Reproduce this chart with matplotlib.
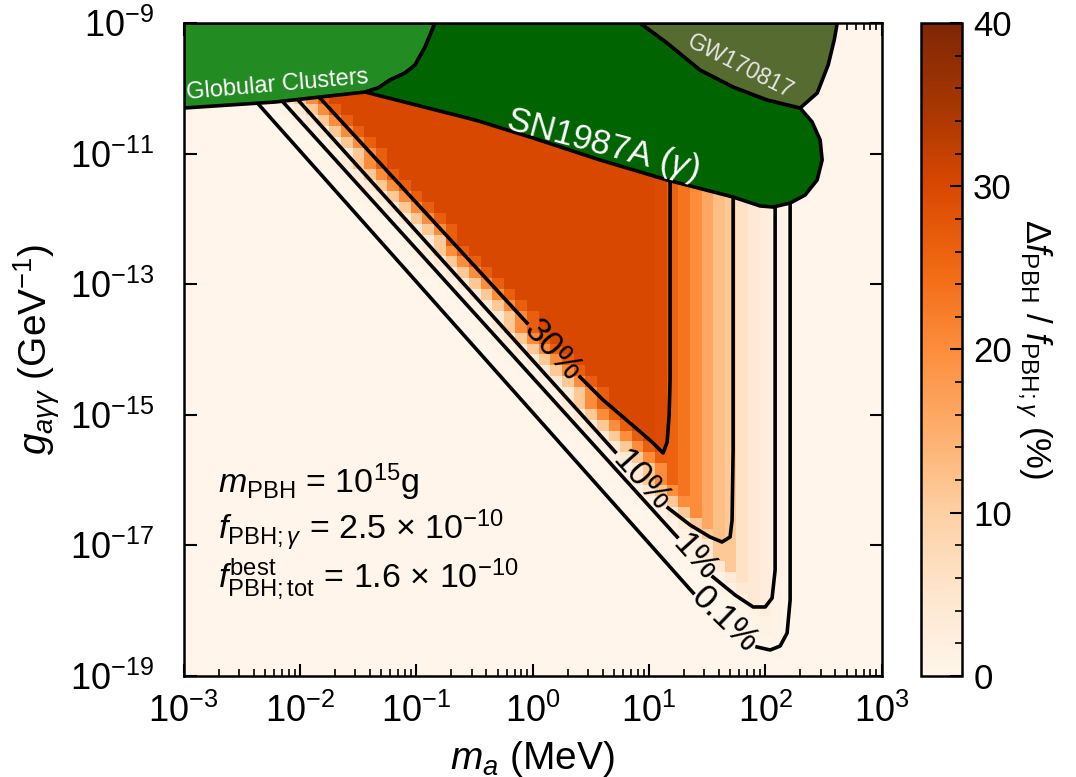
import numpy as np
import matplotlib
matplotlib.use('Agg')
import matplotlib.pyplot as plt
from matplotlib.patches import Polygon
from matplotlib.ticker import LogLocator, NullLocator, MultipleLocator

plt.rcParams['font.family'] = ['Liberation Sans', 'DejaVu Sans']
plt.rcParams['mathtext.fontset'] = 'custom'
plt.rcParams['mathtext.rm'] = 'Liberation Sans'
plt.rcParams['mathtext.it'] = 'Liberation Sans:italic'
plt.rcParams['mathtext.bf'] = 'Liberation Sans:bold'

# heat map grid (cell centres): m_a in MeV, g in GeV^-1
ma_grid = np.logspace(-3, 3, 61)
g_grid = np.logspace(-19, -9, 61)

# 30 % edge of the cells along the diagonal (log10 m_a, log10 g)
edge_logm = [-2.42, 2.74]
edge_logg = [-9.0, -19.0]
# cell value (%) vs. column offset from that edge
edge_offset = [-6, -5, -4, -3, -2, -1, 0, 1]
edge_pct = [0.15, 0.5, 1.5, 4.0, 11.0, 20.0, 26.5, 30.0]

# fall-off of the columns at large m_a (log10 m_a of column centre, %)
fall_logm = [1.0, 1.1, 1.2, 1.3, 1.4, 1.5, 1.6, 1.7, 1.8, 1.9, 2.0, 2.1, 2.2, 2.3]
fall_pct = [30.0, 29.5, 26.0, 23.5, 20.0, 16.0, 12.5, 11.0, 6.0, 4.0, 2.5, 1.0, 0.15, 0.0]

# contour lines, log10 values; part a ends at the label, part b starts after it
contours = {
    '30%': dict(a_m=[-2.128, -0.048], a_g=[-9.567, -13.594],
                b_m=[0.408, 0.606, 0.838, 1.036, 1.122, 1.157, 1.174, 1.182, 1.182],
                b_g=[-14.421, -14.773, -15.126, -15.432, -15.585, -15.417, -15.003, -14.467, -9.3]),
    '10%': dict(a_m=[-2.326, 0.711], a_g=[-9.567, -15.570],
                b_m=[1.165, 1.355, 1.525, 1.629, 1.698, 1.715, 1.724, 1.724],
                b_g=[-16.427, -16.688, -16.871, -16.948, -16.871, -16.611, -15.539, -9.3]),
    '1%': dict(a_m=[-2.472, 1.243], a_g=[-9.567, -16.871],
               b_m=[1.551, 1.741, 1.896, 2.0, 2.059, 2.085, 2.085],
               b_g=[-17.484, -17.760, -17.943, -17.943, -17.806, -17.377, -9.3]),
    '0.1%': dict(a_m=[-2.694, 1.381], a_g=[-9.567, -17.729],
                 b_m=[1.930, 2.042, 2.128, 2.188, 2.214, 2.214],
                 b_g=[-18.556, -18.602, -18.541, -18.342, -17.836, -9.3]),
}
# label centres (m_a, g) and angle
label_pos = {'30%': (1.50, 9.8e-15, -48), '10%': (8.6, 9.7e-17, -48),
             '1%': (24.9, 6.6e-18, -48), '0.1%': (45.2, 7.2e-19, -44)}

# excluded regions, log10 vertices
gc_m = [-3.0, -0.838, -0.924, -1.010, -1.096, -1.225, -1.328, -1.440, -2.214, -3.0]
gc_g = [-9.0, -9.0, -9.368, -9.643, -9.766, -9.873, -9.995, -10.057, -10.210, -10.302]
sn_m = [-0.838, 0.924, 1.156, 1.440, 1.724, 2.016, 2.300, 2.403, 2.472, 2.489, 2.446,
        2.343, 2.214, 2.068, 1.956, 1.724, 1.156, 0.580, 0.004, -0.495, -1.440,
        -1.328, -1.225, -1.096, -1.010, -0.924]
sn_g = [-9.0, -9.0, -9.306, -9.720, -9.980, -10.179, -10.302, -10.516, -10.792, -11.098,
        -11.404, -11.634, -11.757, -11.818, -11.802, -11.665, -11.404, -11.098, -10.761,
        -10.485, -10.057, -9.995, -9.873, -9.766, -9.643, -9.368]
gw_m = [0.924, 1.156, 1.440, 1.724, 2.016, 2.300, 2.447, 2.541, 2.593, 2.619]
gw_g = [-9.0, -9.306, -9.720, -9.980, -10.179, -10.302, -10.072, -9.643, -9.260, -9.0]

# build the table of cells from the arrays above
logm = np.log10(ma_grid)
logg = np.log10(g_grid)
edge_at_row = np.interp(logg, edge_logg[::-1], edge_logm[::-1])
off = np.floor((logm[None, :] - edge_at_row[:, None]) / 0.1).astype(int)
idx = np.clip(off - edge_offset[0], 0, len(edge_pct) - 1)
edge_val = np.where(off < edge_offset[0], 0.0, np.array(edge_pct)[idx])
fall = dict(zip(np.round(fall_logm, 1), fall_pct))
col_cap = np.array([fall.get(round(l, 1), edge_pct[-1] if l < fall_logm[0] else 0.0) for l in logm])
Z = np.minimum(edge_val, col_cap[None, :])

fig = plt.figure(figsize=(10.76, 7.77), dpi=100)
ax = fig.add_axes([0.1706, 0.130, 0.6487, 0.8404])
cax = fig.add_axes([0.856, 0.130, 0.0381, 0.8404])

mesh = ax.pcolormesh(ma_grid, g_grid, Z, shading='nearest', cmap='Oranges', vmin=0, vmax=40)

for lev, c in contours.items():
    ax.plot(10 ** np.array(c['a_m']), 10 ** np.array(c['a_g']), color='k', lw=2.6, zorder=3)
    ax.plot(10 ** np.array(c['b_m']), 10 ** np.array(c['b_g']), color='k', lw=2.6, zorder=3)
    x, y, rot = label_pos[lev]
    ax.text(x, y, lev, fontsize=25, rotation=rot, ha='center', va='center',
            rotation_mode='anchor', zorder=3)

for pm, pg, col in [(gc_m, gc_g, '#228B22'), (sn_m, sn_g, '#006400'), (gw_m, gw_g, '#556B2F')]:
    verts = np.column_stack([10 ** np.array(pm), 10 ** np.array(pg)])
    ax.add_patch(Polygon(verts, closed=True, facecolor=col, edgecolor='k', lw=2.6, zorder=4))

ax.text(10 ** -2.19, 10 ** -9.95, 'Globular Clusters', color='white', fontsize=17,
        rotation=5, ha='center', va='center', zorder=5)
ax.text(10 ** 0.60, 10 ** -10.86, r'SN1987A $(\gamma)$', color='white', fontsize=25,
        rotation=-15, ha='center', va='center', zorder=5)
ax.text(10 ** 1.79, 10 ** -9.67, 'GW170817', color='#e6e6e6', fontsize=16.5,
        rotation=-27, ha='center', va='center', zorder=5)

ax.text(0.049, 0.280, r'$m_{\mathrm{PBH}}$ = $10^{15}$g', transform=ax.transAxes,
        fontsize=24.5, va='baseline')
ax.text(0.049, 0.208, r'$f_{\mathrm{PBH};\gamma}$ = 2.5 $\times$ $10^{-10}$', transform=ax.transAxes,
        fontsize=24.5, va='baseline')
ax.text(0.049, 0.135, r'$f^{\mathrm{best}}_{\mathrm{PBH;tot}}$ = 1.6 $\times$ $10^{-10}$',
        transform=ax.transAxes, fontsize=24.5, va='baseline')

ax.set_xscale('log')
ax.set_yscale('log')
ax.set_xlim(1e-3, 1e3)
ax.set_ylim(1e-19, 1e-9)
ax.xaxis.set_major_locator(LogLocator(base=10, numticks=10))
ax.xaxis.set_minor_locator(LogLocator(base=10, subs=np.arange(2, 10), numticks=20))
ax.set_yticks([1e-19, 1e-17, 1e-15, 1e-13, 1e-11, 1e-9])
ax.yaxis.set_minor_locator(NullLocator())
ax.tick_params(which='both', direction='in', top=True, right=True, labelsize=26)
ax.tick_params(which='major', length=9, width=1.5)
ax.tick_params(axis='x', which='major', pad=13)
ax.tick_params(axis='y', which='major', pad=21)
ax.tick_params(which='minor', length=5, width=1.2)
for s in ax.spines.values():
    s.set_linewidth(1.8)
    s.set_zorder(6)
ax.set_xlabel(r'$m_a$ (MeV)', fontsize=28, labelpad=6)
ax.set_ylabel(r'$g_{a\gamma\gamma}$ (GeV$^{-1}$)', fontsize=28, labelpad=6)

cb = fig.colorbar(mesh, cax=cax)
cb.outline.set_linewidth(1.8)
cb.set_ticks([0, 10, 20, 30, 40])
cax.yaxis.set_minor_locator(MultipleLocator(2))
cax.tick_params(which='both', direction='in', labelsize=25)
cax.tick_params(which='major', length=9, width=1.5, pad=8)
cax.tick_params(which='minor', length=5, width=1.2)
cb.set_label(r'$\Delta f_{\mathrm{PBH}}$ / $f_{\mathrm{PBH};\gamma}$ (%)', fontsize=25,
             rotation=270, labelpad=30)

fig.savefig('out.png', dpi=100)
